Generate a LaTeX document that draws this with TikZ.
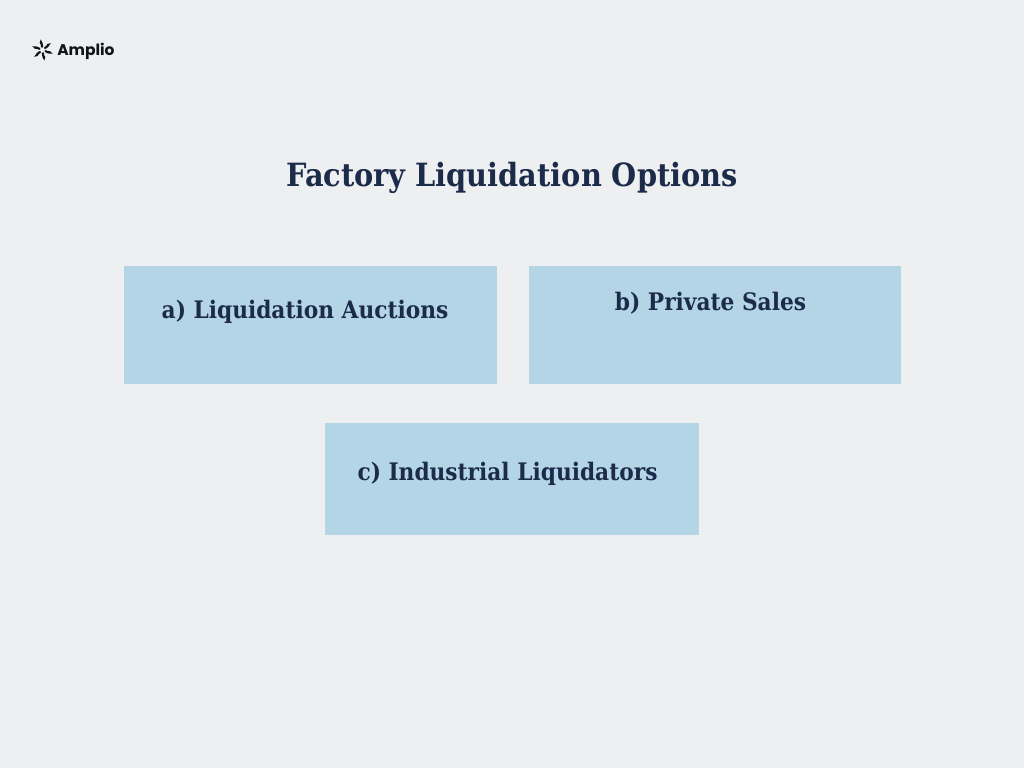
\documentclass[tikz,border=0pt]{standalone}
\usepackage{fontspec}
\setmainfont{DejaVu Serif Condensed}
\setsansfont{Poppins}
\usetikzlibrary{positioning}
\definecolor{pagebg}{HTML}{EEEFF1}
\definecolor{boxblue}{HTML}{B4D5E6}
\definecolor{darknavy}{HTML}{1C2B4A}
\definecolor{logoblack}{HTML}{111318}
\tikzset{
  optionbox/.style={fill=boxblue, draw=none, inner sep=0pt, anchor=north west},
  optionlabel/.style={font=\fontsize{18.1}{22}\selectfont\bfseries, text=darknavy, inner sep=0pt},
  logostroke/.style={draw=logoblack, line width=1.6pt, line cap=round}
}
\begin{document}
\begin{tikzpicture}[x=0.75pt, y=-0.75pt]
  % Fondo
  \fill[pagebg] (0,0) rectangle (1024,768);
  \useasboundingbox (0,0) rectangle (1024,768);

  % Logo
  \foreach \ang in {80,140,200,260,320,20} {
    \draw[logostroke] (42.5,50) ++(\ang:3.2) .. controls ++(\ang+25:1.6) and ++(\ang+10:2.8) .. ++(\ang-8:3.9);
  }
  \node[font=\fontsize{11.6}{15}\selectfont\sffamily\bfseries, text=logoblack, inner sep=0pt, anchor=west] (logotext) at (57,51.5) {Amplio};

  % Titulo
  \node[font=\fontsize{24}{30}\selectfont\bfseries, text=darknavy, inner sep=0pt] (title) at (512,178) {Factory Liquidation Options};

  % Cajas
  \node[optionbox, minimum width=373*0.75pt, minimum height=118*0.75pt] (boxa) at (124,266) {};
  \node[optionbox, minimum width=372*0.75pt, minimum height=118*0.75pt] (boxb) at (529,266) {};
  \node[optionbox, minimum width=374*0.75pt, minimum height=112*0.75pt] (boxc) at (325,423) {};

  % Etiquetas
  \node[optionlabel] (labela) at (305,311.5) {a) Liquidation Auctions};
  \node[optionlabel] (labelb) at (710.5,303) {b) Private Sales};
  \node[optionlabel] (labelc) at (507.5,473.5) {c) Industrial Liquidators};
\end{tikzpicture}
\end{document}
